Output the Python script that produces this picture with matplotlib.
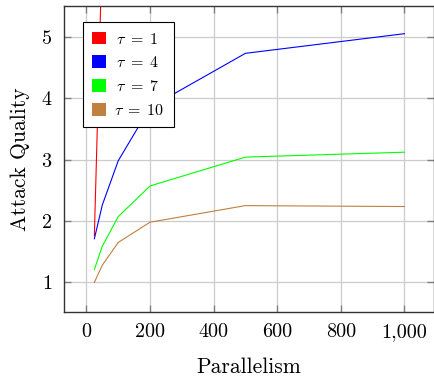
import matplotlib
matplotlib.use("Agg")
import matplotlib.pyplot as plt
from matplotlib.patches import Patch
from matplotlib.ticker import FuncFormatter

plt.rcParams['font.family'] = 'serif'
plt.rcParams['font.serif'] = ['cmr10', 'DejaVu Serif']
plt.rcParams['mathtext.fontset'] = 'cm'
plt.rcParams['axes.formatter.use_mathtext'] = True

parallelism = [25, 50, 100, 200, 500, 1000]
red_x = [25, 50]
tau1 = [1.76, 6.5]
tau4 = [1.71, 2.26, 2.98, 3.85, 4.73, 5.05]
tau7 = [1.21, 1.59, 2.07, 2.57, 3.04, 3.12]
tau10 = [1.00, 1.28, 1.65, 1.98, 2.25, 2.235]
labels = [r'$\,\tau\;=\;1$', r'$\,\tau\;=\;4$', r'$\,\tau\;=\;7$', r'$\tau\;=\;10$']
colors = ['#ff0000', '#0000ff', '#00ff00', '#bf8040']
xticks = [0, 200, 400, 600, 800, 1000]
yticks = [1, 2, 3, 4, 5]

fig = plt.figure(figsize=(4.35, 3.78), dpi=100)
ax = fig.add_axes([0.146, 0.175, 0.851, 0.809])

ax.plot(red_x, tau1, color=colors[0], lw=0.8)
ax.plot(parallelism, tau4, color=colors[1], lw=0.8)
ax.plot(parallelism, tau7, color=colors[2], lw=0.8)
ax.plot(parallelism, tau10, color=colors[3], lw=0.8)

ax.set_xlim(-72, 1092)
ax.set_ylim(0.52, 5.5)
ax.set_xticks(xticks)
ax.set_yticks(yticks)
ax.xaxis.set_major_formatter(FuncFormatter(lambda v, p: f'{v:,.0f}'))
ax.grid(True, color='#cccccc', lw=0.9)
ax.set_axisbelow(True)
ax.tick_params(direction='in', length=5, width=1, color='#808080', top=True, right=True,
               labelsize=14.5, pad=8)
for s in ax.spines.values():
    s.set_color('#333333')
    s.set_linewidth(1.0)

ax.set_xlabel('Parallelism', fontsize=15.5, labelpad=12)
ax.set_ylabel('Attack Quality', fontsize=15.5, labelpad=8)

handles = [Patch(facecolor=c, edgecolor='none') for c in colors]
leg = ax.legend(handles, labels, loc='upper left', bbox_to_anchor=(0.052, 0.948),
                borderaxespad=0, fontsize=11.5, handlelength=0.85, handleheight=0.85,
                handletextpad=0.5, labelspacing=0.55, fancybox=False, framealpha=1,
                edgecolor='black', borderpad=0.6)
leg.get_frame().set_linewidth(0.8)

fig.savefig('out.png', dpi=100)
